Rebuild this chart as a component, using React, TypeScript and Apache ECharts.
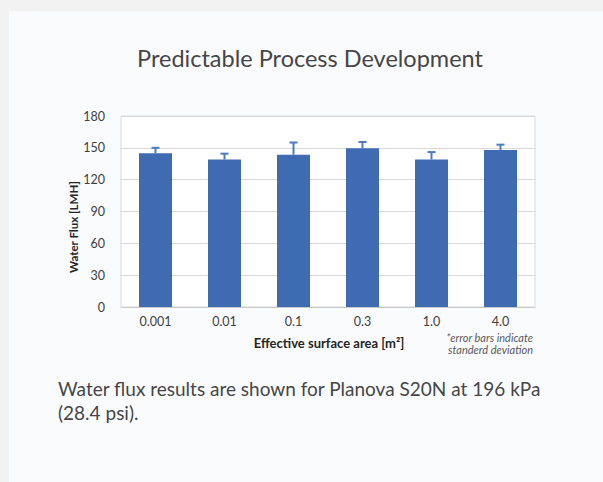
import React, { useEffect, useRef } from "react";
import * as echarts from "echarts";

const categories = ["0.001", "0.01", "0.1", "0.3", "1.0", "4.0"];
const fluxValues = [145, 139, 143.5, 149.5, 139, 148];
const stdDev = [5, 5.5, 11.5, 6, 7, 5];
const yTicks = { min: 0, max: 180, interval: 30 };

const title = "Predictable Process Development";
const caption1 = "Water flux results are shown for Planova S20N at 196 kPa";
const caption2 = "(28.4 psi).";
const xName = "Effective surface area [m²]";
const yName = "Water Flux [LMH]";
const note1 = "*error bars indicate";
const note2 = "standerd deviation";

const FONT = "Lato, 'Open Sans', sans-serif";

export default function App() {
  const ref = useRef<HTMLDivElement>(null);
  useEffect(() => {
    if (!ref.current) return;
    const chart = echarts.init(ref.current, undefined, { renderer: "svg" });
    const errData = fluxValues.map((v, i) => [i, v, stdDev[i]]);
    chart.setOption({
      animation: false,
      backgroundColor: "#f2f2f2",
      textStyle: { fontFamily: FONT },
      grid: {
        left: 121,
        right: 68,
        top: 116,
        bottom: 175,
        show: true,
        backgroundColor: "#ffffff",
        borderColor: "#d9d9d9",
        borderWidth: 1,
        containLabel: false,
      },
      xAxis: {
        type: "category",
        data: categories,
        axisTick: { show: false },
        axisLine: { lineStyle: { color: "#c8c8c8", width: 1 } },
        axisLabel: { color: "#404040", fontSize: 12.5, margin: 8, fontFamily: FONT },
      },
      yAxis: {
        type: "value",
        min: yTicks.min,
        max: yTicks.max,
        interval: yTicks.interval,
        axisLine: { show: false },
        axisTick: { show: false },
        axisLabel: { color: "#404040", fontSize: 12.5, margin: 16, fontFamily: FONT },
        splitLine: { lineStyle: { color: "#d9d9d9", width: 1 } },
      },
      graphic: [
        {
          type: "rect",
          z: -10,
          silent: true,
          shape: { x: 9, y: 11, width: 600, height: 480 },
          style: { fill: "#fafbfd" },
        },
        {
          type: "text",
          x: 310,
          y: 58,
          style: {
            text: title,
            fill: "#464646",
            font: `23.5px ${FONT}`,
            textAlign: "center",
            textVerticalAlign: "middle",
          },
        },
        {
          type: "text",
          x: 73,
          y: 227,
          rotation: Math.PI / 2,
          style: {
            text: yName,
            fill: "#262626",
            font: `bold 11.5px ${FONT}`,
            textAlign: "center",
            textVerticalAlign: "middle",
          },
        },
        {
          type: "text",
          x: 329,
          y: 343,
          style: {
            text: xName,
            fill: "#262626",
            font: `bold 13px ${FONT}`,
            textAlign: "center",
            textVerticalAlign: "middle",
          },
        },
        {
          type: "text",
          x: 533,
          y: 337,
          style: {
            text: note1,
            fill: "#595959",
            font: `italic 11px ${FONT}`,
            textAlign: "right",
            textVerticalAlign: "middle",
          },
        },
        {
          type: "text",
          x: 533,
          y: 349,
          style: {
            text: note2,
            fill: "#595959",
            font: `italic 11px ${FONT}`,
            textAlign: "right",
            textVerticalAlign: "middle",
          },
        },
        {
          type: "text",
          x: 58,
          y: 388,
          style: {
            text: caption1,
            fill: "#464646",
            font: `19px ${FONT}`,
            textAlign: "left",
            textVerticalAlign: "middle",
          },
        },
        {
          type: "text",
          x: 58,
          y: 412,
          style: {
            text: caption2,
            fill: "#464646",
            font: `19px ${FONT}`,
            textAlign: "left",
            textVerticalAlign: "middle",
          },
        },
      ],
      series: [
        {
          type: "bar",
          data: fluxValues,
          barWidth: 33,
          itemStyle: { color: "#3e6bb1" },
          z: 2,
        },
        {
          type: "custom",
          data: errData,
          z: 3,
          renderItem: (params: any, api: any) => {
            const idx = api.value(0);
            const v = api.value(1);
            const e = api.value(2);
            const base = api.coord([idx, v]);
            const top = api.coord([idx, v + e]);
            const style = { stroke: "#4a7bc4", lineWidth: 2 };
            return {
              type: "group",
              children: [
                { type: "line", shape: { x1: base[0], y1: base[1], x2: top[0], y2: top[1] }, style },
                { type: "line", shape: { x1: top[0] - 4, y1: top[1], x2: top[0] + 4, y2: top[1] }, style },
              ],
            };
          },
        },
      ],
    });
    return () => chart.dispose();
  }, []);
  return (
    <div
      ref={ref}
      style={{ position: "fixed", left: 0, top: 0, width: 603, height: 482 }}
    />
  );
}
